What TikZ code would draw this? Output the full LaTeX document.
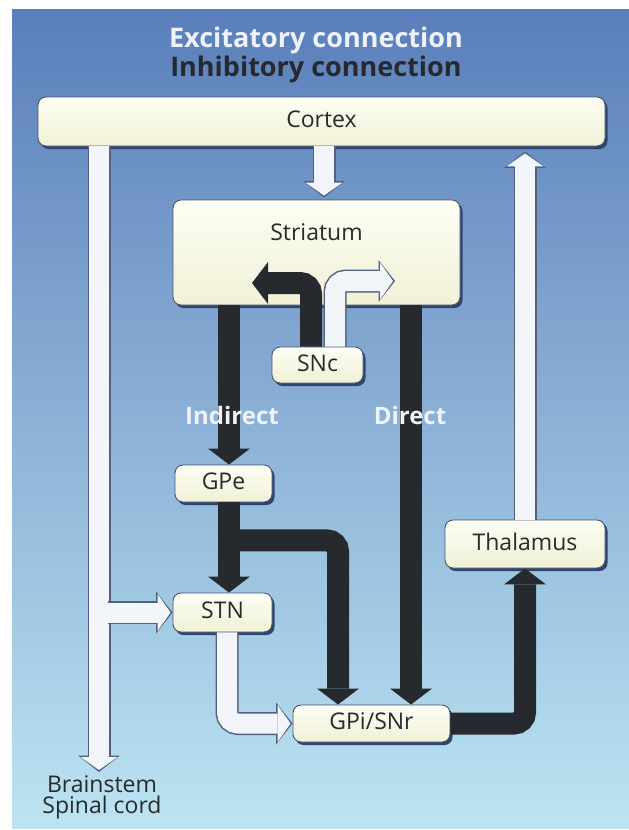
\documentclass[tikz,border=0pt]{standalone}
\usepackage{fontspec}
\setmainfont{Open Sans}
\usepackage{tikz}
\usetikzlibrary{arrows.meta}
\usetikzlibrary{calc}
\usetikzlibrary{shadows}
\definecolor{bgtop}{RGB}{90,126,186}
\definecolor{bgmid}{RGB}{120,160,212}
\definecolor{bgbot}{RGB}{188,228,242}
\definecolor{boxtop}{RGB}{253,253,244}
\definecolor{boxbot}{RGB}{240,241,214}
\definecolor{boxline}{RGB}{70,85,110}
\definecolor{boxtext}{RGB}{40,42,44}
\definecolor{shadowcol}{RGB}{48,68,112}
\definecolor{excfill}{RGB}{242,246,251}
\definecolor{excline}{RGB}{82,98,126}
\definecolor{inhcol}{RGB}{38,42,46}
\definecolor{exctext}{RGB}{238,242,250}
\tikzset{box/.style={rounded corners=8pt, draw=boxline, line width=0.9pt, top color=boxtop, bottom color=boxbot, text=boxtext, font=\fontsize{23}{26}\selectfont, inner sep=0pt, text height=17pt, text depth=5pt, drop shadow={shadow xshift=2.5pt, shadow yshift=-3pt, fill=shadowcol, opacity=1}}}
\tikzset{exc/.style={draw=excfill, line width=20pt, rounded corners=11pt, shorten >=2pt, -{Triangle[length=13pt, width=37pt, line width=0pt]}, preaction={draw=excline, line width=23pt, shorten >=0pt, -{Triangle[length=16.5pt, width=42pt, line width=0pt]}}}}
\tikzset{inh/.style={draw=inhcol, line width=22pt, rounded corners=11pt, -{Triangle[length=16pt, width=42pt, line width=0pt]}}}
\tikzset{headline/.style={font=\bfseries\fontsize{27}{30}\selectfont}}
\tikzset{pathlabel/.style={text=exctext, font=\bfseries\fontsize{24}{26}\selectfont}}

\begin{document}
\begin{tikzpicture}[x=1pt,y=-1pt]
  \useasboundingbox (0,0) rectangle (629,830);
  \fill[white] (0,0) rectangle (629,830);
  \shade[top color=bgtop, middle color=bgmid, bottom color=bgbot] (12,9) rectangle (629,828);
  \node[headline, text=exctext] (exchead) at (316,40) {Excitatory connection};
  \node[headline, text=inhcol] (inhhead) at (316,69) {Inhibitory connection};
  \foreach \x/\y/\w/\h/\lab/\txt in {
    321.5/121.5/567/49/cortex/Cortex,
    317.5/365/91/36/snc/SNc,
    223.5/483.5/97/37/gpe/GPe,
    222.5/612.5/99/39/stn/STN,
    371.5/723.5/157/37/gpi/{GPi/SNr},
    525/544/160/48/thalamus/Thalamus%
  } {
    \node[box, minimum width=\w pt, minimum height=\h pt] (\lab) at (\x, \y) {\txt};
  }
  \node[box, minimum width=287pt, minimum height=105pt, text height=36pt, text depth=61pt, inner ysep=4pt] (striatum) at (316.5,252.5) {Striatum};
  \coordinate (bs) at (99,772);
  \coordinate (dr) at (395,281);
  \coordinate (dl) at (252,283);
  % excitatory
  \draw[exc] (99,0 |- cortex.south) -- (bs);
  \draw[exc] ($(stn.west -| bs)+(9,0)$) -- (stn.west);
  \draw[exc] (324,0 |- cortex.south) -- ($(324,0 |- striatum.north)+(0,-2)$);
  \draw[exc] (thalamus.north) -- ($(thalamus.north |- cortex.south)+(0,5)$);
  \draw[exc] (227,0 |- stn.south) |- (gpi.west);
  \draw[exc] (335,0 |- snc.north) |- (dr);
  % inhibitory
  \draw[inh] (311,0 |- snc.north) |- (dl);
  \draw[inh] (229,0 |- striatum.south) -- (229,0 |- gpe.north);
  \draw[inh] (411,0 |- striatum.south) -- (411,0 |- gpi.north);
  \draw[inh] (229,0 |- gpe.south) -- (229,0 |- stn.north);
  \draw[inh] ($(229,0 |- gpe.south)+(0,38)$) -| (338,0 |- gpi.north);
  \draw[inh] (gpi.east) -| (thalamus.south);
  \node[pathlabel] (indirect) at (232,415) {Indirect};
  \node[pathlabel] (direct) at (410,415) {Direct};
  \node[text=boxtext, align=center, font=\fontsize{23}{21}\selectfont] (brainstem) at (102,797) {Brainstem\\Spinal cord};
\end{tikzpicture}
\end{document}
